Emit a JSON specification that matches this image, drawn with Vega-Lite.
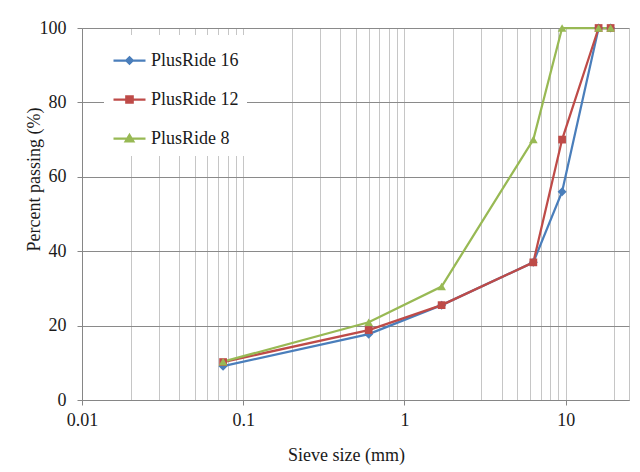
{
  "$schema": "https://vega.github.io/schema/vega-lite/v6.json",
  "width": 547,
  "height": 372,
  "autosize": {"type": "none"},
  "padding": {"left": 82, "top": 28, "right": 11, "bottom": 72},
  "background": "white",
  "config": {
    "view": {"stroke": "#c4c4c4", "strokeWidth": 1},
    "font": "Times New Roman, Liberation Serif, serif"
  },
  "data": {
    "values": [
      {"series": "PlusRide 16", "size": 0.075, "passing": 9.1},
      {"series": "PlusRide 16", "size": 0.6, "passing": 17.7},
      {"series": "PlusRide 16", "size": 1.7, "passing": 25.5},
      {"series": "PlusRide 16", "size": 6.3, "passing": 37},
      {"series": "PlusRide 16", "size": 9.5, "passing": 56},
      {"series": "PlusRide 16", "size": 16, "passing": 100},
      {"series": "PlusRide 16", "size": 19, "passing": 100},
      {"series": "PlusRide 12", "size": 0.075, "passing": 10.2},
      {"series": "PlusRide 12", "size": 0.6, "passing": 18.8},
      {"series": "PlusRide 12", "size": 1.7, "passing": 25.5},
      {"series": "PlusRide 12", "size": 6.3, "passing": 37},
      {"series": "PlusRide 12", "size": 9.5, "passing": 70},
      {"series": "PlusRide 12", "size": 16, "passing": 100},
      {"series": "PlusRide 12", "size": 19, "passing": 100},
      {"series": "PlusRide 8", "size": 0.075, "passing": 10.3},
      {"series": "PlusRide 8", "size": 0.6, "passing": 20.9},
      {"series": "PlusRide 8", "size": 1.7, "passing": 30.5},
      {"series": "PlusRide 8", "size": 6.3, "passing": 70},
      {"series": "PlusRide 8", "size": 9.5, "passing": 100},
      {"series": "PlusRide 8", "size": 16, "passing": 100},
      {"series": "PlusRide 8", "size": 19, "passing": 100}
    ]
  },
  "encoding": {
    "x": {
      "field": "size",
      "type": "quantitative",
      "scale": {"type": "log", "domain": [0.01, 24.7], "nice": false},
      "axis": {
        "title": "Sieve size (mm)",
        "values": [0.01, 0.02, 0.03, 0.04, 0.05, 0.06, 0.07, 0.08, 0.09, 0.1, 0.2, 0.3, 0.4, 0.5, 0.6, 0.7, 0.8, 0.9, 1, 2, 3, 4, 5, 6, 7, 8, 9, 10, 20],
        "labelExpr": "datum.value == 0.01 ? '0.01' : datum.value == 0.1 ? '0.1' : datum.value == 1 ? '1' : datum.value == 10 ? '10' : ''",
        "grid": true,
        "gridColor": "#c6c6c6",
        "gridWidth": 1,
        "domainColor": "#868686",
        "domainWidth": 1,
        "tickColor": "#868686",
        "tickSize": 5,
        "tickOpacity": {"condition": {"test": "datum.value == 0.01 || datum.value == 0.1 || datum.value == 1 || datum.value == 10", "value": 1}, "value": 0},
        "labelFont": "Times New Roman, Liberation Serif, serif",
        "labelFontSize": 18,
        "labelColor": "#1a1a1a",
        "labelPadding": 6,
        "labelFlush": false,
        "labelOverlap": false,
        "titleFont": "Times New Roman, Liberation Serif, serif",
        "titleFontSize": 18,
        "titleFontWeight": "normal",
        "titleColor": "#1a1a1a",
        "titleX": 264,
        "titleY": 55,
        "titleBaseline": "middle",
        "titleAlign": "center"
      }
    },
    "y": {
      "field": "passing",
      "type": "quantitative",
      "scale": {"domain": [0, 100], "nice": false},
      "axis": {
        "title": "Percent passing (%)",
        "values": [0, 20, 40, 60, 80, 100],
        "grid": true,
        "gridColor": "#8a8a8a",
        "gridWidth": 1,
        "domainColor": "#868686",
        "tickColor": "#868686",
        "tickSize": 5,
        "labelFont": "Times New Roman, Liberation Serif, serif",
        "labelFontSize": 18,
        "labelColor": "#1a1a1a",
        "labelPadding": 11,
        "labelFlush": false,
        "titleFont": "Times New Roman, Liberation Serif, serif",
        "titleFontSize": 18,
        "titleFontWeight": "normal",
        "titleColor": "#1a1a1a",
        "titleAngle": 270,
        "titleX": -48,
        "titleY": 151,
        "titleBaseline": "middle",
        "titleAlign": "center"
      }
    }
  },
  "layer": [
    {
      "mark": {"type": "line", "strokeWidth": 2.25},
      "encoding": {
        "color": {
          "field": "series",
          "type": "nominal",
          "scale": {"domain": ["PlusRide 16", "PlusRide 12", "PlusRide 8"], "range": ["#4a7ebb", "#be4b48", "#98b954"]},
          "legend": {
            "orient": "none",
            "legendX": 22,
            "legendY": 7,
            "title": null,
            "fillColor": "white",
            "padding": 8,
            "symbolSize": 1024,
            "symbolStrokeWidth": 2.25,
            "rowPadding": 12,
            "labelOffset": 4,
            "labelFont": "Times New Roman, Liberation Serif, serif",
            "labelFontSize": 18,
            "labelColor": "#1a1a1a",
            "encode": {
              "symbols": {
                "update": {
                  "shape": {"signal": "datum.value === 'PlusRide 16' ? 'M-1,0H1M0,-0.2L0.2,0L0,0.2L-0.2,0Z' : datum.value === 'PlusRide 12' ? 'M-1,0H1M-0.2,-0.2H0.2V0.2H-0.2Z' : 'M-1,0H1M0,-0.22L0.24,0.18H-0.24Z'"},
                  "size": {"value": 1024},
                  "fill": {"scale": "color", "field": "value"},
                  "stroke": {"scale": "color", "field": "value"},
                  "strokeWidth": {"value": 2.25},
                  "opacity": {"value": 1}
                }
              }
            }
          }
        }
      }
    },
    {
      "transform": [{"filter": "datum.series === 'PlusRide 16'"}],
      "mark": {"type": "point", "filled": true, "opacity": 1, "shape": "diamond", "size": 81, "color": "#4a7ebb"}
    },
    {
      "transform": [{"filter": "datum.series === 'PlusRide 12'"}],
      "mark": {"type": "point", "filled": true, "opacity": 1, "shape": "square", "size": 60, "color": "#be4b48"}
    },
    {
      "transform": [{"filter": "datum.series === 'PlusRide 8'"}],
      "mark": {"type": "point", "filled": true, "opacity": 1, "shape": "triangle-up", "size": 75, "color": "#98b954"}
    }
  ]
}
